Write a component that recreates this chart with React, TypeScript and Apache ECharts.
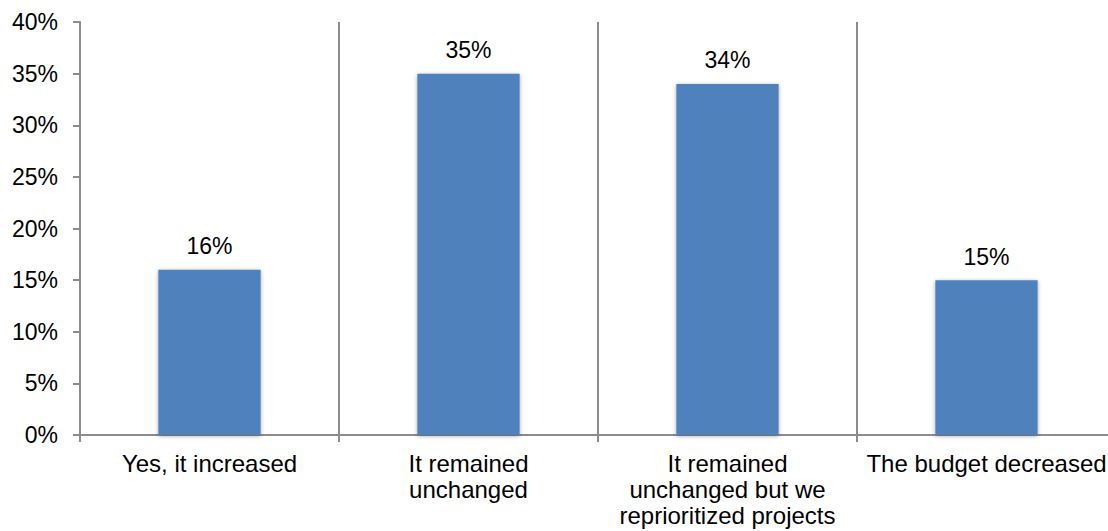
import React, { useEffect, useRef } from "react";
import * as echarts from "echarts";

// Survey answers (multi-line labels are pre-broken)
const categories: string[] = [
  "Yes, it increased",
  "It remained\nunchanged",
  "It remained\nunchanged but we\nreprioritized projects",
  "The budget decreased",
];

// Share of respondents, in percent
const shares: number[] = [16, 35, 34, 15];

// Value-axis range and step, in percent
const yMin = 0;
const yMax = 40;
const yStep = 5;

const FONT = "'Liberation Sans', Arial, sans-serif";
const AXIS_GRAY = "#8c8c8c";
const BAR_BLUE = "#4f81bd";

export default function App() {
  const ref = useRef<HTMLDivElement>(null);

  useEffect(() => {
    if (!ref.current) return;
    const chart = echarts.init(ref.current, undefined, { renderer: "svg" });
    chart.setOption({
      animation: false,
      backgroundColor: "#ffffff",
      textStyle: { fontFamily: FONT },
      // the plot runs a little past the right edge of the view
      grid: { left: 80, right: 0, top: 22, bottom: 96, containLabel: false },
      xAxis: {
        type: "category",
        data: categories,
        boundaryGap: true,
        axisLine: { show: true, lineStyle: { color: AXIS_GRAY, width: 2 } },
        axisTick: {
          show: true,
          alignWithLabel: false,
          length: 7,
          lineStyle: { color: AXIS_GRAY, width: 2 },
        },
        splitLine: { show: true, lineStyle: { color: AXIS_GRAY, width: 2 } },
        axisLabel: {
          interval: 0,
          margin: 15,
          color: "#000000",
          fontSize: 24,
          lineHeight: 26,
          fontFamily: FONT,
        },
      },
      yAxis: {
        type: "value",
        min: yMin,
        max: yMax,
        interval: yStep,
        axisLine: { show: true, lineStyle: { color: AXIS_GRAY, width: 2 } },
        axisTick: { show: true, length: 7, lineStyle: { color: AXIS_GRAY, width: 2 } },
        splitLine: { show: false },
        axisLabel: {
          margin: 22,
          color: "#000000",
          fontSize: 23,
          fontFamily: FONT,
          formatter: (v: number) => `${v}%`,
        },
      },
      series: [
        {
          type: "bar",
          data: shares,
          barWidth: "39.5%",
          itemStyle: {
            color: BAR_BLUE,
            shadowColor: "rgba(0,0,0,0.35)",
            shadowBlur: 4,
            shadowOffsetX: 0,
            shadowOffsetY: 1,
          },
          label: {
            show: true,
            position: "top",
            distance: 12,
            color: "#000000",
            fontSize: 23,
            fontFamily: FONT,
            formatter: (p: any) => `${p.value}%`,
          },
        },
      ],
    });
    return () => chart.dispose();
  }, []);

  return (
    <div
      ref={ref}
      style={{ position: "fixed", left: 0, top: 0, width: 1116, height: 531, background: "#fff" }}
    />
  );
}
